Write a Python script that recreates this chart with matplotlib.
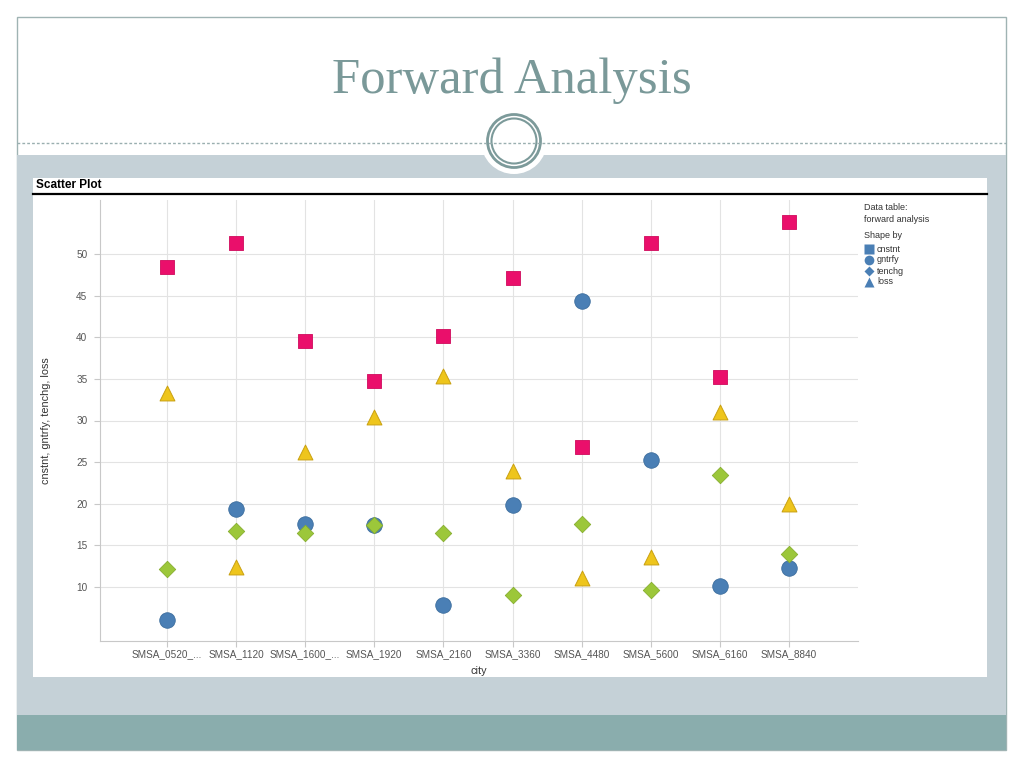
import matplotlib
matplotlib.use("Agg")
import matplotlib.pyplot as plt
from matplotlib.patches import Rectangle, Circle

cities = ["SMSA_0520_...", "SMSA_1120", "SMSA_1600_...", "SMSA_1920", "SMSA_2160",
          "SMSA_3360", "SMSA_4480", "SMSA_5600", "SMSA_6160", "SMSA_8840"]
cnstnt = [48.4, 51.3, 39.6, 34.8, 40.2, 47.1, 26.8, 51.3, 35.2, 53.8]
gntrfy = [6.0, 19.4, 17.6, 17.4, 7.8, 19.9, 44.4, 25.3, 10.1, 12.3]
tenchg = [12.2, 16.7, 16.5, 17.4, 16.5, 9.0, 17.6, 9.6, 23.5, 14.0]
loss = [33.3, 12.4, 26.2, 30.4, 35.4, 23.9, 11.1, 13.6, 31.0, 20.0]
yticks = [10, 15, 20, 25, 30, 35, 40, 45, 50]
legend_names = ["cnstnt", "gntrfy", "tenchg", "loss"]

W, H = 1024, 768
fig = plt.figure(figsize=(W / 100, H / 100), dpi=100)
fig.patch.set_facecolor("white")

# background overlay in pixel coordinates
bg = fig.add_axes([0, 0, 1, 1], zorder=0)
bg.set_xlim(0, W)
bg.set_ylim(H, 0)
bg.axis("off")

slide_edge = "#9FB3B3"
bg.add_patch(Rectangle((17, 17), 989, 733, facecolor="white", edgecolor=slide_edge, lw=1.0))
bg.add_patch(Rectangle((17, 155), 989, 560, facecolor="#C5D1D7", edgecolor="none"))
bg.add_patch(Rectangle((17, 715), 989, 35, facecolor="#8AADAD", edgecolor="none"))
bg.plot([17, 1006], [143, 143], color="#9AAFB0", lw=1.0, ls=(0, (2, 1.5)))
bg.add_patch(Circle((514, 141), 33, facecolor="white", edgecolor="none"))
bg.add_patch(Circle((514, 141), 26.5, facecolor="none", edgecolor="#7C9A9A", lw=2.0))
bg.add_patch(Circle((514, 141), 22.5, facecolor="none", edgecolor="#7C9A9A", lw=1.5))
bg.text(512, 81, "Forward Analysis", ha="center", va="center", fontsize=36.5,
        family="Liberation Serif", color="#7A9999")

# chart panel
bg.add_patch(Rectangle((33, 178), 954, 499, facecolor="white", edgecolor="none"))
bg.plot([33, 987], [193.5, 193.5], color="black", lw=1.6)
bg.text(36, 185, "Scatter Plot", ha="left", va="center", fontsize=8.5,
        fontweight="bold", family="Liberation Sans", color="black")

# legend (manual)
lx = 864
lfont = dict(fontsize=6.5, family="Liberation Sans", color="#333333", va="center", ha="left")
bg.text(lx, 208, "Data table:", **lfont)
bg.text(lx, 219, "forward analysis", **lfont)
bg.text(lx, 236, "Shape by", **lfont)
leg_markers = ["s", "o", "D", "^"]
leg_sizes = [6.5, 7, 5, 7]
for i, (name, mk) in enumerate(zip(legend_names, leg_markers)):
    yy = 249 + i * 11
    bg.plot([lx + 4.5], [yy], marker=mk, ms=leg_sizes[i], color="#4A7FB5", mec="none")
    bg.text(lx + 13, yy, name, **lfont)

# scatter axes
x0, x1, ytop, ybot = 100, 858, 200, 641
ax = fig.add_axes([x0 / W, 1 - ybot / H, (x1 - x0) / W, (ybot - ytop) / H], zorder=1)
ax.set_facecolor("white")
xs = list(range(len(cities)))
ax.set_xlim(-0.97, len(cities) - 1 + 1.0)
ax.set_ylim(3.5, 56.5)

ax.scatter(xs, cnstnt, marker="s", s=105, color="#EA0F6B", edgecolors="#D00A5C", linewidths=0.6, zorder=3)
ax.scatter(xs, gntrfy, marker="o", s=125, color="#4A7FB5", edgecolors="#3D6E9E", linewidths=0.6, zorder=3)
ax.scatter(xs, tenchg, marker="D", s=70, color="#9CC73A", edgecolors="#86AE2E", linewidths=0.6, zorder=3)
ax.scatter(xs, loss, marker="^", s=115, color="#EEC51C", edgecolors="#C9A010", linewidths=0.7, zorder=3)

ax.set_xticks(xs)
ax.set_xticklabels(cities)
ax.set_yticks(yticks)
ax.grid(True, color="#E3E3E3", lw=0.8)
ax.set_axisbelow(True)
for s in ["top", "right"]:
    ax.spines[s].set_visible(False)
for s in ["left", "bottom"]:
    ax.spines[s].set_color("#C8C8C8")
    ax.spines[s].set_linewidth(0.8)
ax.tick_params(axis="both", colors="#C8C8C8", labelcolor="#555555", labelsize=7.2,
               length=4, width=0.8)
for lab in ax.get_xticklabels() + ax.get_yticklabels():
    lab.set_family("Liberation Sans")
ax.tick_params(axis="y", pad=5)
ax.tick_params(axis="x", pad=1.5)
ax.set_xlabel("city", fontsize=7.8, family="Liberation Sans", color="#333333", labelpad=5)
ax.set_ylabel("cnstnt, gntrfy, tenchg, loss", fontsize=7.8, family="Liberation Sans",
              color="#333333", labelpad=18)

fig.savefig("out.png", dpi=100, facecolor=fig.get_facecolor())
